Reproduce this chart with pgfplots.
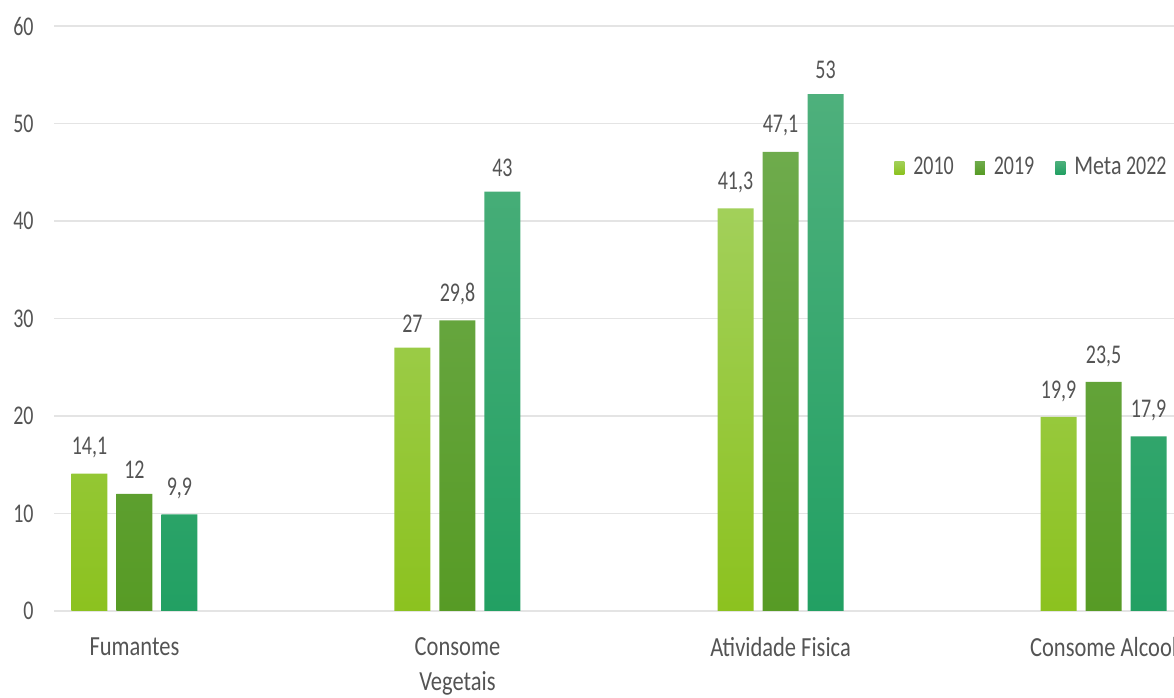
\documentclass[border=0pt]{standalone}
\usepackage{pgfplots}
\pgfplotsset{compat=1.18}
\usepackage{fontspec}
\setmainfont{Carlito}[FakeStretch=0.74]
\newfontfamily\wide{Carlito}[FakeStretch=0.815]
\definecolor{txt}{HTML}{545454}
\definecolor{gridc}{HTML}{E4E4E4}
\definecolor{aT}{HTML}{A2D05A}
\definecolor{aB}{HTML}{8CC21F}
\definecolor{bT}{HTML}{6EAB4C}
\definecolor{bB}{HTML}{579B25}
\definecolor{cT}{HTML}{4EB07C}
\definecolor{cB}{HTML}{22A063}
\begin{document}
\begin{tikzpicture}
\fontsize{13.5pt}{17.5pt}\selectfont
\begin{axis}[
  name=ax,
  scale only axis,
  width=560pt, height=292.5pt,
  xmin=-0.249, xmax=3.218,
  ymin=0, ymax=60,
  ytick={0,10,...,60},
  xtick=data,
  xticklabels={Fumantes,{Consome\\Vegetais},Atividade Fisica,Consome Alcool},
  xticklabel style={align=center, anchor=north, inner sep=0pt, yshift=-13pt, text=txt, font=\wide\fontsize{13.8pt}{17.5pt}\selectfont},
  yticklabel style={anchor=east, inner sep=0pt, xshift=-10pt, text=txt, font=\fontsize{13.5pt}{17.5pt}\selectfont},
  /pgf/number format/assume math mode=true,
  axis line style={draw=none},
  major tick length=0pt,
  xmajorgrids=false,
  ymajorgrids=true,
  y grid style={draw=gridc, line width=0.8pt},
  ybar=4.5pt,
  bar width=18pt,
  nodes near coords,
  /pgf/number format/use comma,
  every node near coord/.append style={text=txt, inner sep=0pt, anchor=south, yshift=7.5pt, font=\fontsize{13.5pt}{17.5pt}\selectfont},
  legend columns=3,
  legend style={draw=none, fill=none, at={(1,0.758)}, anchor=east, xshift=1pt,
    font=\fontsize{13.5pt}{17.5pt}\selectfont, text=txt,
    /tikz/every odd column/.append style={column sep=3pt},
    /tikz/every even column/.append style={column sep=9pt},
    nodes={inner sep=1.5pt}},
  legend image code/.code={\path[#1, draw=none] (0pt,-3.25pt) rectangle (5pt,3.25pt);},
  clip=false,
]
\addplot[draw=none, top color=aT, bottom color=aB] coordinates {(0,14.1) (1,27) (2,41.3) (3,19.9)};
\addplot[draw=none, top color=bT, bottom color=bB] coordinates {(0,12) (1,29.8) (2,47.1) (3,23.5)};
\addplot[draw=none, top color=cT, bottom color=cB] coordinates {(0,9.9) (1,43) (2,53) (3,17.9)};
\legend{2010,2019,{{\wide Meta} 2022}}
\end{axis}
\pgfresetboundingbox
\path[use as bounding box] ([xshift=-27pt,yshift=-43.5pt]ax.south west) rectangle ([yshift=13pt]ax.north east);
\end{tikzpicture}
\end{document}
